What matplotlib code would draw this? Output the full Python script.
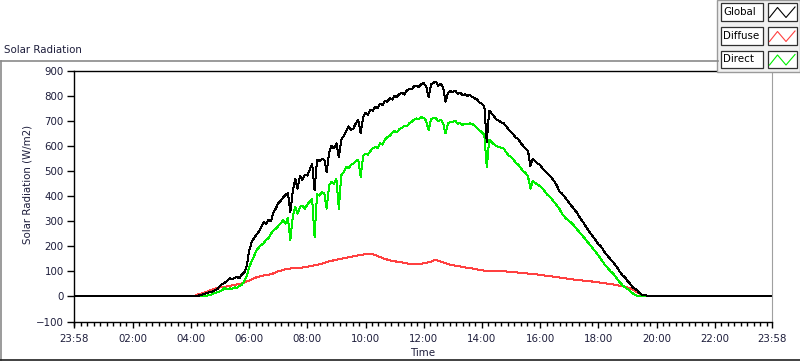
import numpy as np
import matplotlib
matplotlib.use("Agg")
import matplotlib.pyplot as plt
from matplotlib.lines import Line2D
from matplotlib.patches import Rectangle

plt.rcParams['font.family'] = ['DejaVu Sans']
FS = 7.4
TXT = '#1e1e3c'

# 5-minute samples from 04:00 to 20:00 (W/m2)
global_rad = [
    0, 0, 1, 3, 5, 8, 12, 15, 17, 20, 26, 30,                    # 04
    42, 50, 55, 62, 72, 68, 74, 78, 72, 88, 95, 120,             # 05
    180, 215, 232, 245, 258, 275, 296, 290, 305, 300, 335, 350,  # 06
    372, 380, 395, 405, 412, 336, 418, 470, 430, 480, 465, 485,  # 07
    482, 505, 530, 423, 545, 540, 548, 545, 496, 575, 600, 590,  # 08
    610, 555, 625, 640, 660, 678, 665, 670, 690, 705, 650, 715,  # 09
    732, 725, 745, 740, 756, 750, 768, 762, 780, 776, 790, 785,  # 10
    800, 795, 808, 812, 805, 820, 828, 825, 838, 840, 835, 846,  # 11
    850, 838, 795, 845, 852, 856, 840, 848, 832, 776, 812, 818,  # 12
    816, 820, 808, 812, 803, 806, 800, 802, 796, 790, 785, 772,  # 13
    768, 758, 615, 740, 730, 718, 705, 700, 694, 690, 678, 665,  # 14
    656, 645, 632, 628, 612, 600, 590, 580, 520, 548, 538, 530,  # 15
    525, 510, 500, 490, 480, 470, 456, 440, 418, 410, 398, 385,  # 16
    372, 360, 348, 336, 320, 305, 292, 276, 262, 248, 236, 222,  # 17
    208, 200, 186, 170, 160, 148, 138, 124, 112, 96, 84, 76,     # 18
    62, 52, 38, 31, 24, 14, 7, 5, 3, 2, 0, 0,                    # 19
    0]

direct_rad = [
    0, 0, 0, 0, 1, 2, 3, 4, 6, 10, 14, 18,                       # 04
    20, 26, 34, 28, 32, 30, 36, 35, 42, 47, 60, 80,              # 05
    115, 140, 160, 183, 195, 205, 212, 225, 232, 250, 262, 270,  # 06
    280, 292, 303, 290, 312, 225, 318, 356, 330, 358, 362, 350,  # 07
    366, 378, 390, 236, 408, 402, 415, 410, 350, 443, 456, 450,  # 08
    468, 350, 483, 495, 516, 510, 525, 530, 540, 545, 476, 560,  # 09
    570, 565, 580, 590, 596, 592, 610, 605, 625, 636, 640, 652,  # 10
    660, 655, 668, 672, 680, 678, 690, 695, 705, 710, 706, 715,  # 11
    712, 700, 663, 705, 712, 710, 698, 705, 690, 650, 690, 696,  # 12
    696, 700, 688, 692, 683, 688, 686, 690, 688, 680, 670, 662,  # 13
    655, 643, 514, 625, 616, 606, 600, 596, 592, 590, 575, 562,  # 14
    556, 545, 532, 525, 512, 500, 492, 478, 430, 462, 452, 445,  # 15
    440, 430, 418, 405, 398, 385, 374, 362, 348, 330, 318, 308,  # 16
    300, 292, 282, 270, 258, 248, 236, 224, 212, 200, 188, 176,  # 17
    163, 150, 136, 122, 112, 100, 92, 80, 66, 55, 44, 36,        # 18
    30, 22, 14, 7, 3, 1, 1, 0, 0, 0, 0, 0,                       # 19
    0]

diffuse_hours = [4.0, 4.07, 4.25, 4.5, 4.75, 5.0, 5.25, 5.5, 5.75, 6.0, 6.25, 6.5,
                 6.75, 7.0, 7.25, 7.5, 7.75, 8.0, 8.25, 8.5, 8.75, 9.0, 9.25, 9.5,
                 9.75, 10.0, 10.2, 10.4, 10.6, 10.8, 11.0, 11.25, 11.5, 11.75, 12.0,
                 12.25, 12.4, 12.6, 12.8, 13.0, 13.25, 13.5, 13.75, 14.0, 14.25, 14.5,
                 14.75, 15.0, 15.25, 15.5, 15.75, 16.0, 16.25, 16.5, 16.75, 17.0,
                 17.25, 17.5, 17.75, 18.0, 18.25, 18.5, 18.75, 19.0, 19.2, 19.35,
                 19.5, 19.6, 20.0]
diffuse_rad = [0, 0, 8, 17, 28, 36, 40, 46, 52, 63, 76, 84,
               88, 100, 108, 113, 114, 118, 124, 130, 140, 146, 152, 158,
               164, 168, 170, 162, 152, 145, 140, 136, 130, 128, 132,
               138, 146, 138, 130, 124, 120, 114, 110, 104, 100, 102,
               100, 98, 95, 92, 90, 86, 82, 78, 74, 70,
               66, 63, 60, 56, 52, 48, 42, 36, 26, 16,
               5, 0, 0]

x_ticks = [-2 / 60, 2, 4, 6, 8, 10, 12, 14, 16, 18, 20, 22, 23 + 58 / 60]
x_labels = ['23:58', '02:00', '04:00', '06:00', '08:00', '10:00', '12:00',
            '14:00', '16:00', '18:00', '20:00', '22:00', '23:58']

start, end = x_ticks[0], x_ticks[-1]
day = np.arange(len(global_rad)) * 5 / 60 + 4.0
t = np.concatenate([[start], day, [end]])
g = np.concatenate([[0], global_rad, [0]])
d = np.concatenate([[0], direct_rad, [0]])

fig = plt.figure(figsize=(8.0, 3.61), dpi=100)
W, H = 800, 361


def fx(px):
    return px / W


def fy(py):
    return 1 - py / H


# outer frame
fig.add_artist(Line2D([fx(0.5), fx(718)], [fy(61), fy(61)], color='#8a8a8a', lw=1.2))
fig.add_artist(Line2D([fx(0.5), fx(0.5)], [fy(61), fy(360)], color='#8a8a8a', lw=1.2))
fig.add_artist(Line2D([fx(0), fx(800)], [fy(359.5), fy(359.5)], color='#202020', lw=1.2))
fig.text(fx(4), fy(50), 'Solar Radiation', fontsize=FS, color=TXT, va='center', ha='left')

ax = fig.add_axes([fx(73.5), fy(321.5), fx(772 - 73.5), (321.5 - 70.7) / H])
ax.plot(diffuse_hours, diffuse_rad, color='#ff4040', lw=0.72, antialiased=False)
ax.plot(t, d, color='#00ee00', lw=0.72, antialiased=False)
ax.plot(t, g, color='black', lw=0.72, antialiased=False)

ax.set_xlim(start, end)
ax.set_ylim(-100, 900)
ax.set_yticks(np.arange(-100, 901, 100))
ax.set_xticks(x_ticks)
ax.set_xticklabels(x_labels)
ax.set_xticks(np.arange(0, 24, 2 / 9), minor=True)
ax.tick_params(axis='both', labelsize=FS, labelcolor=TXT, width=1.0, color='black')
ax.tick_params(axis='y', length=5, pad=2)
ax.tick_params(axis='x', which='major', length=4, pad=5)
ax.tick_params(axis='x', which='minor', length=3, width=1.0)
for s in ['left', 'bottom', 'top']:
    ax.spines[s].set_color('black')
    ax.spines[s].set_linewidth(1.0)
ax.spines['right'].set_color('#a0a0a0')
ax.set_xlabel('Time', fontsize=FS, color=TXT, labelpad=3)
ax.set_ylabel('Solar Radiation (W/m2)', fontsize=FS, color=TXT)
ax.yaxis.set_label_coords(-0.059, 0.547)

# legend panel
fig.add_artist(Rectangle((fx(717), fy(72)), fx(83), 72 / H, facecolor='#f0f0f0',
                         edgecolor='#9a9a9a', lw=1.0))
legend_rows = [('Global', 'black', 3), ('Diffuse', '#ff4040', 27), ('Direct', '#00ee00', 50.5)]
for name, col, top in legend_rows:
    fig.add_artist(Rectangle((fx(721), fy(top + 17.5)), fx(42), 17.5 / H,
                             facecolor='white', edgecolor='#303030', lw=0.9))
    fig.add_artist(Rectangle((fx(768), fy(top + 17.5)), fx(29), 17.5 / H,
                             facecolor='white', edgecolor='#303030', lw=0.9))
    fig.text(fx(723), fy(top + 9), name, fontsize=FS, color='black', va='center', ha='left')
    fig.add_artist(Line2D([fx(769.5), fx(777.5), fx(786), fx(795)],
                          [fy(top + 14.5), fy(top + 4.5), fy(top + 14.5), fy(top + 4)],
                          color=col, lw=0.8))

fig.savefig('out.png', dpi=100)
